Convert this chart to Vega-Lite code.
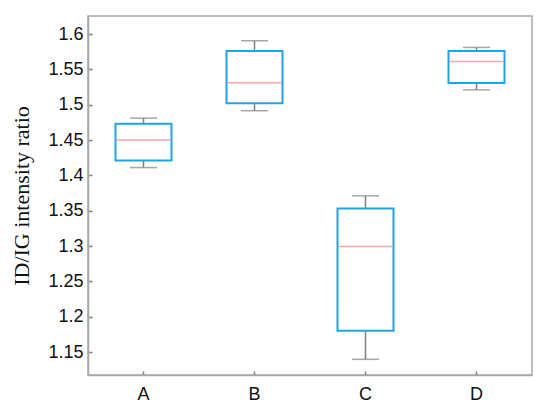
{
  "$schema": "https://vega.github.io/schema/vega-lite/v6.json",
  "width": 444,
  "height": 359,
  "autosize": {"type": "none"},
  "padding": {"left": 88, "top": 16, "right": 18, "bottom": 35},
  "background": "white",
  "config": {
    "view": {"stroke": "#a8a8a8", "strokeWidth": 1.5},
    "axis": {"labelOverlap": false, "labelBound": false}
  },
  "data": {"values": [
    {"group": "A", "min": 1.411, "q1": 1.421, "median": 1.450, "q3": 1.473, "max": 1.481},
    {"group": "B", "min": 1.4915, "q1": 1.502, "median": 1.531, "q3": 1.576, "max": 1.5905},
    {"group": "C", "min": 1.1397, "q1": 1.180, "median": 1.2995, "q3": 1.353, "max": 1.371},
    {"group": "D", "min": 1.521, "q1": 1.5307, "median": 1.561, "q3": 1.576, "max": 1.581}
  ]},
  "encoding": {
    "x": {"field": "group", "type": "nominal", "scale": {"paddingInner": 0, "paddingOuter": 0},
      "axis": {"title": null, "labelAngle": 0, "grid": false, "domainColor": "#a8a8a8", "domainWidth": 1.5, "tickColor": "#808080", "tickWidth": 1.5, "tickSize": -4,
        "labelFont": "Liberation Sans", "labelFontSize": 18, "labelColor": "#111", "labelPadding": 14}},
    "y": {"field": "min", "type": "quantitative",
      "scale": {"domain": [1.1175, 1.6255], "nice": false, "zero": false},
      "axis": {"values": [1.15, 1.2, 1.25, 1.3, 1.35, 1.4, 1.45, 1.5, 1.55, 1.6], "format": ".3~f", "labelOverlap": false,
        "grid": false, "domainColor": "#a8a8a8", "domainWidth": 1.5, "tickColor": "#808080", "tickWidth": 1.5, "tickSize": -4,
        "labelFont": "Liberation Sans", "labelFontSize": 18, "labelColor": "#111", "labelPadding": 9,
        "title": "ID/IG intensity ratio", "titleFont": "Liberation Serif", "titleFontSize": 22, "titleFontWeight": "normal", "titleColor": "#111", "titlePadding": 14}}
  },
  "layer": [
    {
      "mark": {"type": "rule", "color": "#808080", "strokeWidth": 1.5},
      "encoding": {"y2": {"field": "max"}}
    },
    {
      "mark": {"type": "tick", "color": "#808080", "size": 27, "thickness": 1.5},
      "encoding": {}
    },
    {
      "mark": {"type": "tick", "color": "#808080", "size": 27, "thickness": 1.5},
      "encoding": {"y": {"field": "max", "type": "quantitative"}}
    },
    {
      "mark": {"type": "bar", "fill": "white", "stroke": "#1ea4e9", "strokeWidth": 2, "width": 56},
      "encoding": {
        "y": {"field": "q1", "type": "quantitative"},
        "y2": {"field": "q3"}
      }
    },
    {
      "mark": {"type": "tick", "color": "#f28585", "size": 54, "thickness": 1.5},
      "encoding": {"y": {"field": "median", "type": "quantitative"}}
    }
  ]
}
